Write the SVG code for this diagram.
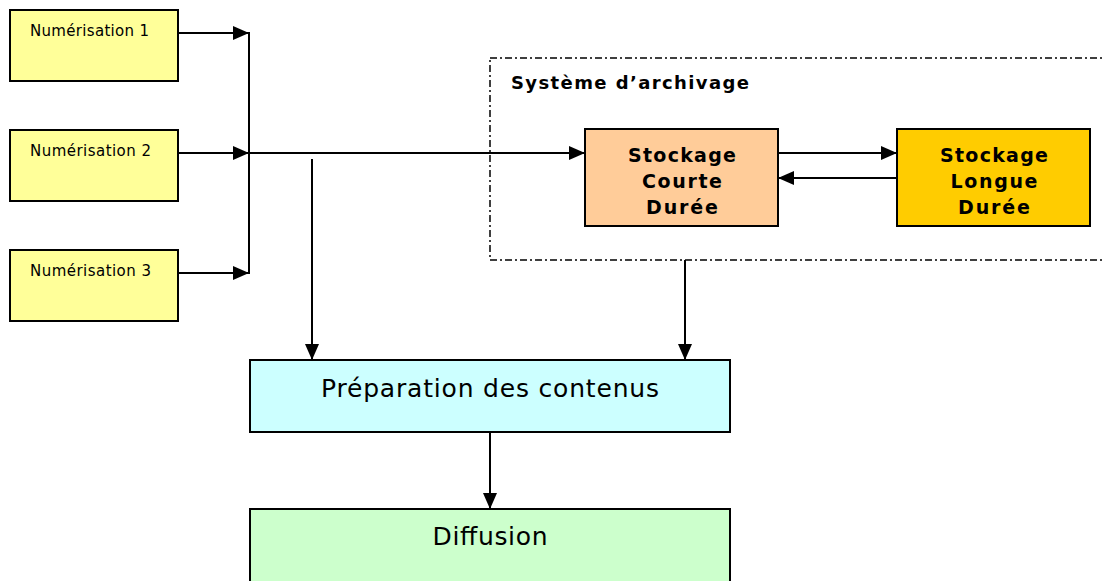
<svg xmlns="http://www.w3.org/2000/svg" width="1104" height="581" viewBox="0 0 1104 581">
  <defs>
    <marker id="arrow" markerUnits="userSpaceOnUse" markerWidth="16" markerHeight="14" refX="16" refY="7" orient="auto">
      <path d="M0,0 L16,7 L0,14 Z" fill="#000"/>
    </marker>
    <style>
      .box { stroke: #000; stroke-width: 2; }
      .scan { fill: #FFFF99; }
      .short { fill: #FFCC99; }
      .long { fill: #FFCC00; }
      .prep { fill: #CCFFFF; }
      .diff { fill: #CCFFCC; }
      .small { font-family: "DejaVu Sans", Verdana, sans-serif; font-size: 15px; fill: #000; }
      .bold { font-family: "DejaVu Sans", Verdana, sans-serif; font-size: 19px; font-weight: bold; fill: #000; text-anchor: middle; }
      .big { font-family: "DejaVu Sans", Verdana, sans-serif; font-size: 25px; fill: #000; text-anchor: middle; }
      .wire { fill: none; stroke: #000; stroke-width: 2; }
      .frame { fill: none; stroke: #000; stroke-width: 1.5; stroke-dasharray: 7 3 2 3; }
    </style>
  </defs>
  <rect width="1104" height="581" fill="#fff"/>

  <!-- archiving system frame -->
  <g id="archive-system">
    <rect class="frame" x="490" y="58" width="630" height="202"/>
    <text x="511" y="89" font-family="DejaVu Sans, Verdana, sans-serif" font-size="18" font-weight="bold" textLength="238" lengthAdjust="spacing">Système d’archivage</text>
  </g>

  <!-- connectors -->
  <g id="connectors">
    <line class="wire" x1="178" y1="33" x2="249" y2="33" marker-end="url(#arrow)"/>
    <line class="wire" x1="178" y1="153" x2="249" y2="153" marker-end="url(#arrow)"/>
    <line class="wire" x1="178" y1="273" x2="249" y2="273" marker-end="url(#arrow)"/>
    <line class="wire" x1="249" y1="32" x2="249" y2="274"/>
    <line class="wire" x1="249" y1="153" x2="585" y2="153" marker-end="url(#arrow)"/>
    <line class="wire" x1="778" y1="153" x2="897" y2="153" marker-end="url(#arrow)"/>
    <line class="wire" x1="897" y1="178" x2="778" y2="178" marker-end="url(#arrow)"/>
    <line class="wire" x1="312" y1="159" x2="312" y2="360" marker-end="url(#arrow)"/>
    <line class="wire" x1="685" y1="260" x2="685" y2="360" marker-end="url(#arrow)"/>
    <line class="wire" x1="490" y1="432" x2="490" y2="509" marker-end="url(#arrow)"/>
  </g>

  <g id="scan1">
    <rect class="box scan" x="10" y="10" width="168" height="71"/>
    <text class="small" x="30" y="36" textLength="119" lengthAdjust="spacing">Numérisation 1</text>
  </g>
  <g id="scan2">
    <rect class="box scan" x="10" y="130" width="168" height="71"/>
    <text class="small" x="30" y="156" textLength="121" lengthAdjust="spacing">Numérisation 2</text>
  </g>
  <g id="scan3">
    <rect class="box scan" x="10" y="250" width="168" height="71"/>
    <text class="small" x="30" y="276" textLength="121" lengthAdjust="spacing">Numérisation 3</text>
  </g>

  <g id="short-term">
    <rect class="box short" x="585" y="129" width="193" height="97"/>
    <text class="bold" x="682" y="162" textLength="108" lengthAdjust="spacing">Stockage</text>
    <text class="bold" x="682" y="188" textLength="80" lengthAdjust="spacing">Courte</text>
    <text class="bold" x="682" y="214" textLength="72" lengthAdjust="spacing">Durée</text>
  </g>

  <g id="long-term">
    <rect class="box long" x="897" y="129" width="193" height="97"/>
    <text class="bold" x="994" y="162" textLength="108" lengthAdjust="spacing">Stockage</text>
    <text class="bold" x="994" y="188" textLength="87" lengthAdjust="spacing">Longue</text>
    <text class="bold" x="994" y="214" textLength="72" lengthAdjust="spacing">Durée</text>
  </g>

  <g id="preparation">
    <rect class="box prep" x="250" y="360" width="480" height="72"/>
    <text class="big" x="490" y="397" textLength="338" lengthAdjust="spacing">Préparation des contenus</text>
  </g>

  <g id="diffusion">
    <rect class="box diff" x="250" y="509" width="480" height="80"/>
    <text class="big" x="490" y="545" textLength="115" lengthAdjust="spacing">Diffusion</text>
  </g>
</svg>
